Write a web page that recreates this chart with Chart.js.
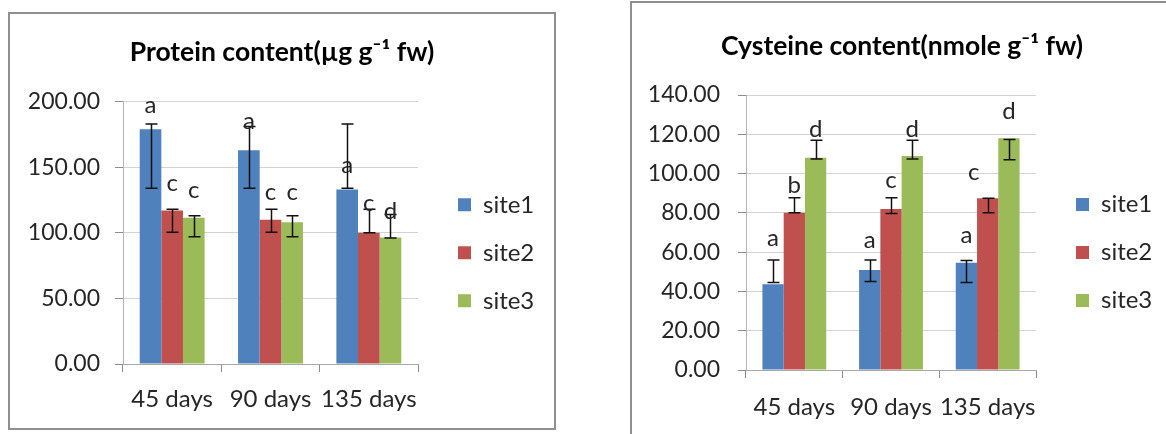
<!DOCTYPE html>
<html>
<head>
<meta charset="utf-8">
<script src="https://cdn.jsdelivr.net/npm/chart.js@4.4.1/dist/chart.umd.min.js"></script>
<style>
  html, body { margin: 0; padding: 0; background: #fff; width: 1166px; height: 434px; overflow: hidden; position: relative; }
  .panel { position: absolute; border: 2px solid #8f8f8f; background: #fff; }
  #p1 { left: 8px; top: 12px; width: 544px; height: 414px; }
  #p2 { left: 630px; top: 1px; width: 540px; height: 440px; }
  canvas { display: block; }
</style>
</head>
<body>
<div class="panel" id="p1"><canvas id="c1" width="544" height="414"></canvas></div>
<div class="panel" id="p2"><canvas id="c2" width="540" height="440"></canvas></div>
<script>
// ---- shared categories and series names ----
const categories = ['45 days', '90 days', '135 days'];
const seriesNames = ['site1', 'site2', 'site3'];

// ---- protein content (µg g-1 fw) ----
const proteinTicks = [0, 50, 100, 150, 200];
const proteinSite1 = [179, 163, 133];
const proteinSite2 = [117, 110, 100];
const proteinSite3 = [111.5, 108, 96.5];
const proteinSite1Hi = [183, 181, 183];
const proteinSite1Lo = [134, 134, 134];
const proteinSite2Hi = [118, 118, 118];
const proteinSite2Lo = [100.5, 100.5, 100];
const proteinSite3Hi = [113, 113, 114];
const proteinSite3Lo = [97, 97, 96];
// significance letters and the value each one is centred on
const proteinSite1Letters = ['a', 'a', 'a'];
const proteinSite2Letters = ['c', 'c', 'c'];
const proteinSite3Letters = ['c', 'c', 'd'];
const proteinSite1LetterAt = [196, 183.5, 150.4];
const proteinSite2LetterAt = [136.5, 130, 121];
const proteinSite3LetterAt = [131.4, 130, 117.4];

// ---- cysteine content (nmole g-1 fw) ----
const cysteineTicks = [0, 20, 40, 60, 80, 100, 120, 140];
const cysteineSite1 = [43.6, 50.9, 54.6];
const cysteineSite2 = [80, 82, 87.5];
const cysteineSite3 = [108, 109, 118];
const cysteineSite1Hi = [56, 56, 55.8];
const cysteineSite1Lo = [44.6, 45, 44.6];
const cysteineSite2Hi = [87.7, 87.7, 87.4];
const cysteineSite2Lo = [80, 79.7, 80];
const cysteineSite3Hi = [117, 117, 117.4];
const cysteineSite3Lo = [107.4, 107.4, 107];
const cysteineSite1Letters = ['a', 'a', 'a'];
const cysteineSite2Letters = ['b', 'c', 'c'];
const cysteineSite3Letters = ['d', 'd', 'd'];
const cysteineSite1LetterAt = [66, 65, 67.8];
const cysteineSite2LetterAt = [94.6, 95.8, 99.7];
const cysteineSite3LetterAt = [123, 123, 132];

const seriesColors = ['#4F81BD', '#C0504D', '#9BBB59'];
const FONT = 'Lato';
const TEXT = '#262626';

// Vertical error bars with caps, drawn from each dataset's errHi / errLo values.
const errorBars = {
  id: 'errorBars',
  afterDatasetsDraw(chart, args, opts) {
    const { ctx } = chart;
    const y = chart.scales.y;
    ctx.save();
    ctx.strokeStyle = opts.color;
    ctx.lineWidth = opts.width;
    chart.data.datasets.forEach((ds, i) => {
      chart.getDatasetMeta(i).data.forEach((bar, j) => {
        const x = Math.round(bar.x) + 0.5;
        const hi = y.getPixelForValue(ds.errHi[j]);
        const lo = y.getPixelForValue(ds.errLo[j]);
        ctx.beginPath();
        ctx.moveTo(x, hi); ctx.lineTo(x, lo);
        ctx.moveTo(x - opts.cap, hi); ctx.lineTo(x + opts.cap, hi);
        ctx.moveTo(x - opts.cap, lo); ctx.lineTo(x + opts.cap, lo);
        ctx.stroke();
      });
    });
    ctx.restore();
  }
};

// Significance letters placed over the bars.
const barLetters = {
  id: 'barLetters',
  afterDatasetsDraw(chart, args, opts) {
    const { ctx } = chart;
    const y = chart.scales.y;
    ctx.save();
    ctx.font = opts.size + 'px ' + FONT;
    ctx.fillStyle = opts.color;
    ctx.textAlign = 'center';
    ctx.textBaseline = 'alphabetic';
    chart.data.datasets.forEach((ds, i) => {
      chart.getDatasetMeta(i).data.forEach((bar, j) => {
        const t = ds.letters[j];
        const m = ctx.measureText(t);
        const cy = y.getPixelForValue(ds.letterAt[j]);
        const dx = (opts.nudge && opts.nudge[i + '-' + j]) || 0;
        ctx.fillText(t, bar.x + dx, cy + (m.actualBoundingBoxAscent - m.actualBoundingBoxDescent) / 2);
      });
    });
    ctx.restore();
  }
};

// Places the legend column beside the plot (widening its clip box) and
// centres the title over the whole panel rather than the padded box.
const panelPlace = {
  id: 'panelPlace',
  afterLayout(chart, args, opts) {
    const lg = chart.legend;
    if (lg) {
      lg.left += opts.dx; lg.right += opts.dx + opts.extra;
      lg.width = lg.right - lg.left;
      lg.top += opts.dy; lg.bottom += opts.dy;
    }
    const tb = chart.titleBlock;
    if (tb) {
      tb.right += opts.titleWiden;
      tb.width = tb.right - tb.left;
    }
  }
};

function makeDatasets(values, his, los, letters, letterAt) {
  return values.map((v, i) => ({
    label: seriesNames[i],
    data: v,
    errHi: his[i],
    errLo: los[i],
    letters: letters[i],
    letterAt: letterAt[i],
    backgroundColor: seriesColors[i],
    borderWidth: 0,
    categoryPercentage: 0.66,
    barPercentage: 1.0
  }));
}

function makeChart(canvasId, cfg) {
  return new Chart(document.getElementById(canvasId), {
    type: 'bar',
    data: { labels: categories, datasets: cfg.datasets },
    plugins: [errorBars, barLetters, panelPlace],
    options: {
      responsive: false,
      animation: false,
      events: [],
      layout: { padding: { left: 0, right: cfg.padRight, top: 0, bottom: 0 } },
      plugins: {
        title: {
          display: true,
          text: cfg.title,
          color: '#000',
          font: { family: FONT, size: 26.5, weight: 'bold', lineHeight: 1.2 },
          padding: { top: cfg.titleTop, bottom: cfg.titleBottom }
        },
        legend: {
          position: 'right',
          fullSize: false,
          maxWidth: 90,
          labels: {
            font: { family: FONT, size: 24 },
            color: TEXT,
            boxWidth: 13,
            boxHeight: 13,
            padding: 24
          }
        },
        tooltip: { enabled: false },
        errorBars: { color: '#111', width: 1.5, cap: 6 },
        barLetters: { size: 24, color: TEXT, nudge: cfg.nudge },
        panelPlace: { dx: 16, dy: 20, extra: 60, titleWiden: cfg.padRight }
      },
      scales: {
        x: {
          grid: { display: true, drawOnChartArea: false, drawTicks: true, offset: true, tickLength: 8, color: '#8c8c8c', tickColor: '#8c8c8c' },
          border: { display: true, color: '#a8a8a8' },
          ticks: { font: { family: FONT, size: 24 }, color: TEXT, padding: cfg.xPad, maxRotation: 0, autoSkip: false },
          afterFit: s => { s.height = cfg.xHeight; }
        },
        y: {
          min: cfg.ticks[0],
          max: cfg.ticks[cfg.ticks.length - 1],
          afterBuildTicks: s => { s.ticks = cfg.ticks.map(v => ({ value: v })); },
          grid: { color: '#d3d3d3', tickLength: 8, tickColor: '#8c8c8c' },
          border: { display: true, color: '#b4b4b4' },
          ticks: { font: { family: FONT, size: 23 }, color: TEXT, padding: cfg.yPad, callback: v => Number(v).toFixed(2) },
          afterFit: s => { s.width = cfg.yWidth; }
        }
      }
    }
  });
}

makeChart('c1', {
  title: 'Protein content(µg g\u207B\u00B9 fw)',
  ticks: proteinTicks,
  datasets: makeDatasets(
    [proteinSite1, proteinSite2, proteinSite3],
    [proteinSite1Hi, proteinSite2Hi, proteinSite3Hi],
    [proteinSite1Lo, proteinSite2Lo, proteinSite3Lo],
    [proteinSite1Letters, proteinSite2Letters, proteinSite3Letters],
    [proteinSite1LetterAt, proteinSite2LetterAt, proteinSite3LetterAt]
  ),
  padRight: 46,
  titleTop: 23,
  titleBottom: 32.9,
  xHeight: 64,
  xPad: 13,
  yWidth: 113,
  yPad: 15,
  nudge: {}
});

makeChart('c2', {
  title: 'Cysteine content(nmole g\u207B\u00B9 fw)',
  ticks: cysteineTicks,
  datasets: makeDatasets(
    [cysteineSite1, cysteineSite2, cysteineSite3],
    [cysteineSite1Hi, cysteineSite2Hi, cysteineSite3Hi],
    [cysteineSite1Lo, cysteineSite2Lo, cysteineSite3Lo],
    [cysteineSite1Letters, cysteineSite2Letters, cysteineSite3Letters],
    [cysteineSite1LetterAt, cysteineSite2LetterAt, cysteineSite3LetterAt]
  ),
  padRight: 46,
  titleTop: 28,
  titleBottom: 32.2,
  xHeight: 73,
  xPad: 15,
  yWidth: 114,
  yPad: 18,
  nudge: { '1-2': -14 }
});
</script>
</body>
</html>
